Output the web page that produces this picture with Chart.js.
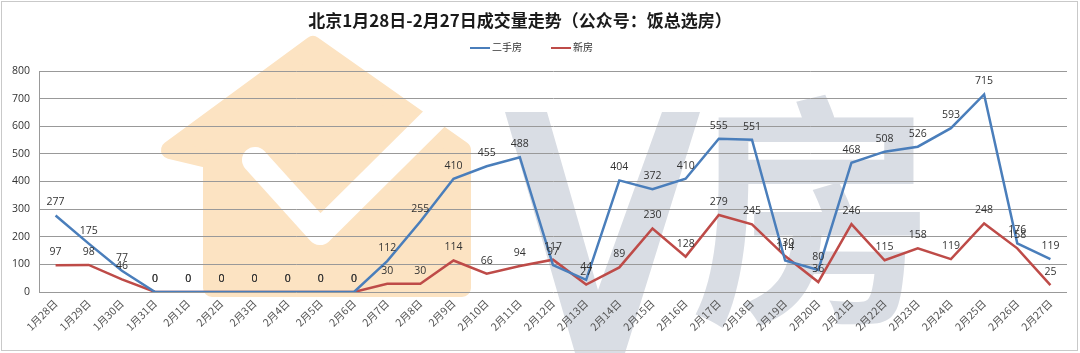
<!DOCTYPE html>
<html>
<head>
<meta charset="utf-8">
<script src="https://cdn.jsdelivr.net/npm/chart.js@4.4.1/dist/chart.umd.min.js"></script>
<style>
  body { margin: 0; background: #fff; }
  #wrap { position: relative; width: 1080px; height: 353px; overflow: hidden; }
  #frame { position: absolute; left: 1px; top: 1px; right: 2px; bottom: 2px; border: 1px solid #c9c9c9; pointer-events: none; }
  #title { position: absolute; left: 0; width: 1040px; top: 7px; text-align: center;
           font: bold 17px "Noto Sans CJK SC", sans-serif; color: #1a1a1a; }
  #legend { position: absolute; top: 39px; left: 470px; font: 10px "Noto Sans CJK SC", sans-serif; color: #333; }
  #legend span.item { position: absolute; white-space: nowrap; }
  #legend i { display: inline-block; width: 20px; height: 2px; vertical-align: middle; margin-right: 2px; }
</style>
</head>
<body>
<div id="wrap">
  <canvas id="chart" width="1080" height="353"></canvas>
  <div id="title">北京1月28日-2月27日成交量走势（公众号：饭总选房）</div>
  <div id="legend">
    <span class="item" style="left:0"><i style="background:#4a7ebb"></i>二手房</span>
    <span class="item" style="left:81px"><i style="background:#be4b48"></i>新房</span>
  </div>
  <div id="frame"></div>
</div>
<script>
// === DATA ===
const days = [
  "1月28日", "1月29日", "1月30日", "1月31日", "2月1日", "2月2日", "2月3日", "2月4日",
  "2月5日", "2月6日", "2月7日", "2月8日", "2月9日", "2月10日", "2月11日", "2月12日",
  "2月13日", "2月14日", "2月15日", "2月16日", "2月17日", "2月18日", "2月19日", "2月20日",
  "2月21日", "2月22日", "2月23日", "2月24日", "2月25日", "2月26日", "2月27日"
];
const secondHand = [277, 175, 77, 0, 0, 0, 0, 0, 0, 0, 112, 255, 410, 455, 488, 97,
  44, 404, 372, 410, 555, 551, 114, 80, 468, 508, 526, 593, 715, 176, 119];
const newHomes = [97, 98, 46, 0, 0, 0, 0, 0, 0, 0, 30, 30, 114, 66, 94, 117,
  27, 89, 230, 128, 279, 245, 130, 36, 246, 115, 158, 119, 248, 158, 25];
const yTicks = [0, 100, 200, 300, 400, 500, 600, 700, 800];

// === WATERMARK (background decoration) ===
const watermark = {
  id: "watermark",
  beforeDraw(chart) {
    const ctx = chart.ctx;
    ctx.save();
    // orange house
    ctx.fillStyle = "#fce3c2";
    ctx.strokeStyle = "#fce3c2";
    ctx.lineJoin = "round";
    ctx.lineWidth = 18;
    ctx.beginPath();
    ctx.moveTo(170, 150);
    ctx.lineTo(313, 45);
    ctx.lineTo(462, 150);
    ctx.lineTo(462, 288);
    ctx.lineTo(212, 288);
    ctx.lineTo(212, 160);
    ctx.closePath();
    ctx.fill();
    ctx.stroke();
    // white check mark
    ctx.strokeStyle = "#ffffff";
    ctx.lineCap = "round";
    ctx.lineWidth = 26;
    ctx.beginPath();
    ctx.moveTo(255, 160);
    ctx.lineTo(320, 232);
    ctx.lineTo(445, 108);
    ctx.stroke();
    // gray V房
    ctx.fillStyle = "#d9dde4";
    ctx.beginPath();
    ctx.moveTo(505, 112);
    ctx.lineTo(547, 112);
    ctx.lineTo(598, 290);
    ctx.lineTo(662, 112);
    ctx.lineTo(700, 112);
    ctx.lineTo(625, 353);
    ctx.lineTo(575, 353);
    ctx.closePath();
    ctx.fill();
    ctx.font = "bold 245px 'Noto Sans CJK SC'";
    ctx.textBaseline = "top";
    ctx.fillText("房", 690, 88);
    ctx.restore();
  }
};

// === DATA LABELS ===
const valueLabels = {
  id: "valueLabels",
  afterDatasetsDraw(chart) {
    const ctx = chart.ctx;
    ctx.save();
    ctx.font = "10.5px 'Open Sans'";
    ctx.fillStyle = "#333";
    ctx.textAlign = "center";
    ctx.textBaseline = "middle";
    chart.data.datasets.forEach((ds, i) => {
      chart.getDatasetMeta(i).data.forEach((pt, j) => {
        ctx.fillText(String(ds.data[j]), pt.x, pt.y - 13);
      });
    });
    ctx.restore();
  }
};

new Chart(document.getElementById("chart"), {
  type: "line",
  data: {
    labels: days,
    datasets: [
      { label: "二手房", data: secondHand, borderColor: "#4a7ebb", borderWidth: 2.5, pointRadius: 0, tension: 0, fill: false },
      { label: "新房", data: newHomes, borderColor: "#be4b48", borderWidth: 2.5, pointRadius: 0, tension: 0, fill: false }
    ]
  },
  options: {
    responsive: false,
    animation: false,
    layout: { padding: { top: 71, right: 13, left: 0, bottom: 0 } },
    plugins: { legend: { display: false }, title: { display: false }, tooltip: { enabled: false } },
    scales: {
      x: {
        offset: true,
        grid: { display: false, drawTicks: false },
        border: { display: false },
        ticks: { minRotation: 45, maxRotation: 45, autoSkip: false, padding: 5,
                 font: { size: 10.5, family: "'Noto Sans CJK SC'" }, color: "#555" },
        afterFit(scale) { scale.height = 61; }
      },
      y: {
        min: 0, max: 800,
        afterBuildTicks(scale) { scale.ticks = yTicks.map(v => ({ value: v })); },
        grid: { color: "#999", lineWidth: 1, drawTicks: false },
        border: { color: "#999" },
        ticks: { padding: 9, font: { size: 10.5, family: "'Open Sans'" }, color: "#333" },
        afterFit(scale) { scale.width = 39; }
      }
    }
  },
  plugins: [watermark, valueLabels]
});
</script>
</body>
</html>
